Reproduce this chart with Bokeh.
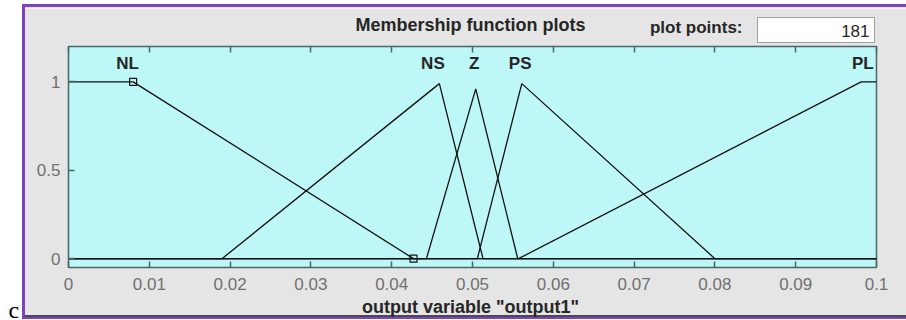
from bokeh.plotting import figure
from bokeh.models import (Range1d, FixedTicker, LinearAxis, Label, CustomJSTickFormatter)
from bokeh.embed import file_html
from bokeh.resources import INLINE

# Axis ticks
x_ticks = [0, 0.01, 0.02, 0.03, 0.04, 0.05, 0.06, 0.07, 0.08, 0.09, 0.1]
y_ticks = [0, 0.5, 1]

# Membership functions of "output1" (vertices of each curve over the range)
nl_x = [0.0, 0.0080, 0.0427, 0.1]
nl_y = [1.0, 1.0, 0.0, 0.0]
ns_x = [0.0, 0.0190, 0.0459, 0.0513, 0.1]
ns_y = [0.0, 0.0, 0.99, 0.0, 0.0]
z_x = [0.0, 0.0443, 0.0504, 0.0556, 0.1]
z_y = [0.0, 0.0, 0.96, 0.0, 0.0]
ps_x = [0.0, 0.0506, 0.0561, 0.0800, 0.1]
ps_y = [0.0, 0.0, 0.99, 0.0, 0.0]
pl_x = [0.0, 0.0557, 0.0981, 0.1]
pl_y = [0.0, 0.0, 1.0, 1.0]

mf_names = ["NL", "NS", "Z", "PS", "PL"]
mf_label_x = [0.0073, 0.0451, 0.0502, 0.0559, 0.0983]

# Handles of the selected function (NL)
sel_x = [0.0080, 0.0427]
sel_y = [1.0, 0.0]

plot_points = "181"
title_text = "Membership function plots"
xlabel_text = 'output variable "output1"'
side_letter = "c"

# Page geometry (pixels)
W, H = 906, 320
FL, FR, FT, FB = 68, 876, 46, 267
X0, X1 = 0.0, 0.1
Y0, Y1 = -0.05, 1.2


def px_y(py):
    return Y1 - (py - FT) / (FB - FT) * (Y1 - Y0)


def lift(baseline, size):
    # Label anchors sit a little above the drawn baseline
    return baseline - 0.38 * size


FONT = "Liberation Sans"
DARK = "#262626"
EDGE = "#4b6666"
PURPLE = "#7d42c1"
PANEL = "#e5e5e5"

p = figure(width=W, height=H, output_backend="svg", toolbar_location=None,
           x_range=Range1d(X0, X1), y_range=Range1d(Y0, Y1),
           min_border_left=FL, min_border_right=W - FR,
           min_border_top=FT, min_border_bottom=H - FB)
p.background_fill_color = "#bdf7f7"
p.border_fill_alpha = 0
p.outline_line_color = EDGE
p.outline_line_width = 1.5
p.grid.visible = False

# Window panel behind the plot: white margin, purple frame, edge lines, entry box
layers = [
    ("#ffffff", "758px 18px", "116px 24px"),     # entry box
    ("#a0a0a0", "757px 17px", "118px 26px"),     # entry box border
    (PURPLE, "22px 4px", "3px 315px"),
    (PURPLE, "22px 4px", f"{W}px 3px"),
    (PURPLE, "22px 317px", f"{W}px 2px"),
    ("#4a4a4a", "25px 315px", f"{W}px 2px"),
    ("#f4f4f4", "25px 8px", f"{W}px 1px"),
    ("#ffffff", "0px 0px", f"22px {H}px"),
    ("#ffffff", "0px 0px", f"{W}px 4px"),
    ("#ffffff", "0px 319px", f"{W}px 1px"),
]
p.styles = {
    "background-color": PANEL,
    "background-image": ", ".join(f"linear-gradient({c}, {c})" for c, _, _ in layers),
    "background-position": ", ".join(pos for _, pos, _ in layers),
    "background-size": ", ".join(size for _, _, size in layers),
    "background-repeat": "no-repeat",
}

fmt = CustomJSTickFormatter(code="return tick.toFixed(2).replace(/0+$/, '').replace(/\\.$/, '');")

for ax in p.xaxis:
    ax.ticker = FixedTicker(ticks=x_ticks)
    ax.formatter = fmt
for ax in p.yaxis:
    ax.ticker = FixedTicker(ticks=y_ticks)
    ax.formatter = fmt

for ax in p.xaxis + p.yaxis:
    ax.major_tick_in = 6
    ax.major_tick_out = 0
    ax.minor_tick_line_color = None
    ax.axis_line_color = EDGE
    ax.major_tick_line_color = EDGE
    ax.major_tick_line_width = 1.5
    ax.major_label_text_font = FONT
    ax.major_label_text_font_size = "17px"
    ax.major_label_text_color = "#707070"
p.xaxis.major_label_standoff = 10
p.yaxis.major_label_standoff = 8

# Top edge ticks (no labels)
top_axis = LinearAxis(ticker=FixedTicker(ticks=x_ticks), major_tick_in=6, major_tick_out=0,
                      minor_tick_line_color=None, axis_line_color=EDGE,
                      major_tick_line_color=EDGE, major_tick_line_width=1.5,
                      major_label_text_font_size="1px",
                      formatter=CustomJSTickFormatter(code="return '';"),
                      major_label_standoff=0)
p.add_layout(top_axis, "above")

# Membership function curves
for xs, ys in [(nl_x, nl_y), (ns_x, ns_y), (z_x, z_y), (ps_x, ps_y), (pl_x, pl_y)]:
    p.line(xs, ys, line_color="#111111", line_width=1.3)

p.scatter(sel_x, sel_y, marker="square", size=7, fill_color=None,
          line_color="#111111", line_width=1.2)

for name, lx in zip(mf_names, mf_label_x):
    p.add_layout(Label(x=lx, y=px_y(lift(69.5, 17)), text=name, text_align="center",
                       text_baseline="alphabetic", text_font=FONT,
                       text_font_size="17px", text_font_style="bold", text_color=DARK))

# Transparent layer over the whole window for the captions around the axes
cap = figure(width=W, height=H, output_backend="svg", toolbar_location=None,
             x_range=Range1d(0, W), y_range=Range1d(H, 0),
             x_axis_type=None, y_axis_type=None, min_border=0)
cap.title = None
cap.background_fill_alpha = 0
cap.border_fill_alpha = 0
cap.outline_line_color = None
cap.grid.visible = False
cap.styles = {"position": "absolute", "left": "0px", "top": "0px",
              "pointer-events": "none"}


def caption(x, y, text, align, size, style="bold", font=FONT, color=DARK):
    cap.add_layout(Label(x=x, y=lift(y, size), text=text, text_align=align,
                         text_baseline="alphabetic", text_font=font,
                         text_font_size=f"{size}px", text_font_style=style,
                         text_color=color))


caption(470, 31, title_text, "center", 18)
caption(742, 33.5, "plot points:", "right", 17)
caption(869, 36.5, plot_points, "right", 17, style="normal")
caption(470, 313, xlabel_text, "center", 18)
caption(8, 319, side_letter, "left", 24, style="normal",
        font="Liberation Serif", color="black")

open("out.html", "w").write(file_html([p, cap], INLINE))
